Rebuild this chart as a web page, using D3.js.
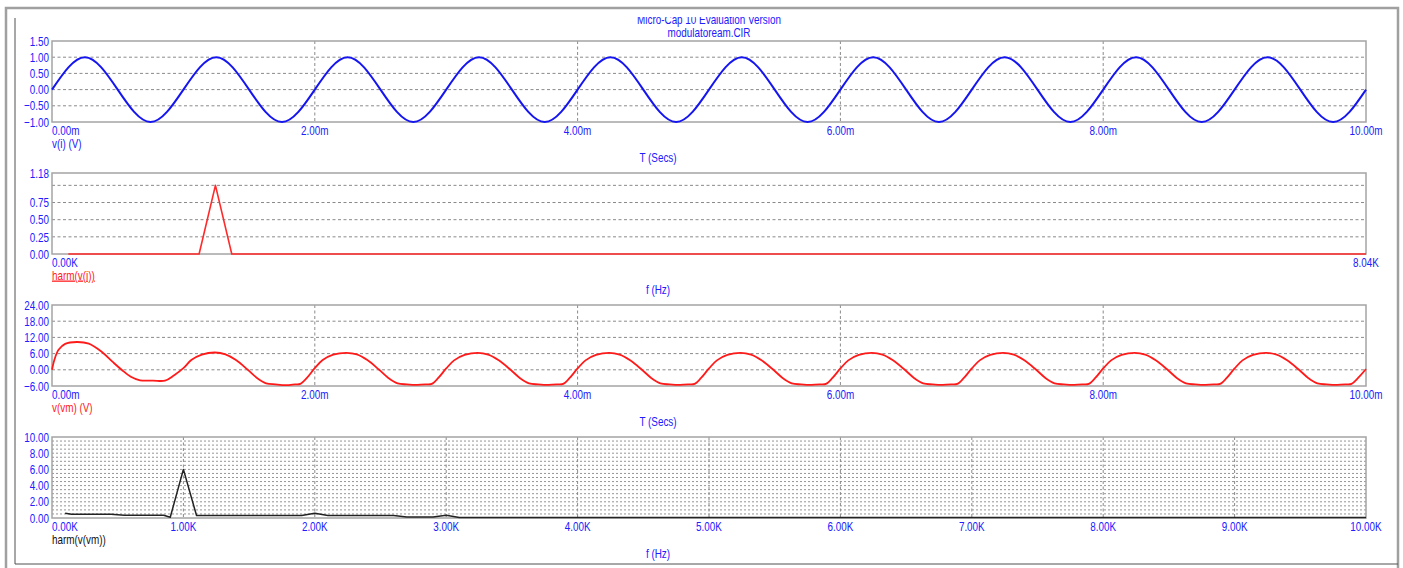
<!DOCTYPE html>
<html>
<head>
<meta charset="utf-8">
<script src="https://cdnjs.cloudflare.com/ajax/libs/d3/7.8.5/d3.min.js"></script>
<style>
  html, body { margin: 0; padding: 0; background: #fff; }
  svg { display: block; font-family: "Liberation Sans", Arial, sans-serif; }
</style>
</head>
<body>
<svg id="chart" width="1403" height="568"></svg>
<script>
// ---------------------------------------------
// Data (time in ms, frequency in kHz)
// ---------------------------------------------

// v(i) : input sine
const viTime = [0, 0.25, 0.5, 0.75, 1, 1.25, 1.5, 1.75, 2, 2.25, 2.5, 2.75,
  3, 3.25, 3.5, 3.75, 4, 4.25, 4.5, 4.75, 5, 5.25, 5.5, 5.75, 6, 6.25, 6.5, 6.75,
  7, 7.25, 7.5, 7.75, 8, 8.25, 8.5, 8.75, 9, 9.25, 9.5, 9.75, 10];
const viValue = [0, 1, 0, -1, 0, 1, 0, -1, 0, 1, 0, -1,
  0, 1, 0, -1, 0, 1, 0, -1, 0, 1, 0, -1, 0, 1, 0, -1,
  0, 1, 0, -1, 0, 1, 0, -1, 0, 1, 0, -1, 0];

// harm(v(i))
const hviFreq = [0.1, 0.9, 1.0, 1.1, 8.04];
const hviValue = [0, 0, 1.0, 0, 0];

// v(vm) : output
const vmTime = [
  0, 0.02, 0.05, 0.10, 0.19, 0.28, 0.38, 0.46, 0.53, 0.60, 0.67, 0.77, 0.86, 0.93,
  1.00, 1.06, 1.14, 1.24, 1.32, 1.40, 1.49, 1.56, 1.63, 1.70, 1.78, 1.85, 1.89, 1.94,
  2.00, 2.06, 2.14, 2.24, 2.32, 2.40, 2.49, 2.56, 2.63, 2.70, 2.78, 2.85, 2.89, 2.94,
  3.00, 3.06, 3.14, 3.24, 3.32, 3.40, 3.49, 3.56, 3.63, 3.70, 3.78, 3.85, 3.89, 3.94,
  4.00, 4.06, 4.14, 4.24, 4.32, 4.40, 4.49, 4.56, 4.63, 4.70, 4.78, 4.85, 4.89, 4.94,
  5.00, 5.06, 5.14, 5.24, 5.32, 5.40, 5.49, 5.56, 5.63, 5.70, 5.78, 5.85, 5.89, 5.94,
  6.00, 6.06, 6.14, 6.24, 6.32, 6.40, 6.49, 6.56, 6.63, 6.70, 6.78, 6.85, 6.89, 6.94,
  7.00, 7.06, 7.14, 7.24, 7.32, 7.40, 7.49, 7.56, 7.63, 7.70, 7.78, 7.85, 7.89, 7.94,
  8.00, 8.06, 8.14, 8.24, 8.32, 8.40, 8.49, 8.56, 8.63, 8.70, 8.78, 8.85, 8.89, 8.94,
  9.00, 9.06, 9.14, 9.24, 9.32, 9.40, 9.49, 9.56, 9.63, 9.70, 9.78, 9.85, 9.89, 9.94,
  10.00
];
const vmValue = [
  0, 4.0, 7.4, 9.6, 10.3, 9.7, 6.6, 3.0, 0.0, -2.6, -3.9, -4.0, -4.0, -2.0,
  0.6, 3.6, 5.6, 6.4, 5.7, 3.6, 0.0, -3.0, -5.0, -5.4, -5.7, -5.4, -5.2, -3.0,
  0.6, 3.6, 5.6, 6.3, 5.7, 3.6, 0.0, -3.0, -5.0, -5.4, -5.6, -5.4, -5.2, -3.0,
  0.5, 3.5, 5.5, 6.3, 5.6, 3.5, 0.0, -3.0, -5.0, -5.4, -5.6, -5.4, -5.2, -3.0,
  0.5, 3.5, 5.5, 6.3, 5.6, 3.5, 0.0, -3.0, -5.0, -5.4, -5.6, -5.4, -5.2, -3.0,
  0.5, 3.5, 5.5, 6.3, 5.6, 3.5, 0.0, -3.0, -5.0, -5.4, -5.6, -5.4, -5.2, -3.0,
  0.5, 3.5, 5.5, 6.3, 5.6, 3.5, 0.0, -3.0, -5.0, -5.4, -5.6, -5.4, -5.2, -3.0,
  0.5, 3.5, 5.5, 6.3, 5.6, 3.5, 0.0, -3.0, -5.0, -5.4, -5.6, -5.4, -5.2, -3.0,
  0.5, 3.5, 5.5, 6.3, 5.6, 3.5, 0.0, -3.0, -5.0, -5.4, -5.6, -5.4, -5.2, -3.0,
  0.5, 3.5, 5.5, 6.3, 5.6, 3.5, 0.0, -3.0, -5.0, -5.4, -5.6, -5.4, -5.2, -3.0,
  0.3
];

// harm(v(vm))
const hvmFreq = [0.1, 0.15, 0.45, 0.55, 0.85, 0.9, 1.0, 1.1, 1.9, 2.0, 2.1, 2.6, 2.7, 2.9, 3.0, 3.1, 10.0];
const hvmValue = [0.6, 0.45, 0.45, 0.33, 0.33, 0.1, 6.0, 0.3, 0.3, 0.6, 0.3, 0.3, 0.12, 0.12, 0.35, 0.05, 0.05];

// Tick values
const timeTicks = [0, 2, 4, 6, 8, 10];
const viYTicks = [-1, -0.5, 0, 0.5, 1, 1.5];
const hviXTicks = [0, 8.04];
const hviYTicks = [0, 0.25, 0.5, 0.75, 1.18];
const vmYTicks = [-6, 0, 6, 12, 18, 24];
const hvmXTicks = [0, 1, 2, 3, 4, 5, 6, 7, 8, 9, 10];
const hvmYTicks = [0, 2, 4, 6, 8, 10];

// ---------------------------------------------
// Layout
// ---------------------------------------------
const svg = d3.select('#chart');
const plotLeft = 52;
const plotRight = 1366;
const plotHeight = 81;
const titleX = 658;
const fontSize = 13;
const textBlue = '#2020ff';
const fmt = d3.format('.2f');

// Window frame
svg.append('path')
    .attr('d', 'M6,568 V8 H1398 V568')
    .attr('fill', 'none').attr('stroke', '#a0a0a0').attr('stroke-width', 2.5);
svg.append('path')
    .attr('d', 'M15,18 V564 H1398')
    .attr('fill', 'none').attr('stroke', '#505050').attr('stroke-width', 1);

// Title (top line partly hidden by window edge)
svg.append('clipPath').attr('id', 'title-clip')
  .append('rect').attr('x', 0).attr('y', 17).attr('width', 1403).attr('height', 30);
svg.append('text')
    .attr('x', 709).attr('y', 23.5)
    .attr('clip-path', 'url(#title-clip)')
    .attr('text-anchor', 'middle').attr('font-size', fontSize).attr('fill', textBlue)
    .text('Micro-Cap 10 Evaluation Version');
svg.append('text')
    .attr('x', 709).attr('y', 37)
    .attr('text-anchor', 'middle').attr('font-size', fontSize).attr('fill', textBlue)
    .text('modulatoream.CIR');

/**
 * Draws one plot panel
 */
let drawPanel = function(cfg) {
  let top = cfg.top;
  let bottom = top + plotHeight;
  let g = svg.append('g');

  let x = d3.scaleLinear().domain(cfg.xDomain).range([plotLeft, plotRight]);
  let y = d3.scaleLinear().domain(cfg.yDomain).range([bottom, top]);

  // Horizontal grid
  g.selectAll('line.hgrid').data(cfg.hGrid).join('line')
      .attr('class', 'hgrid')
      .attr('x1', plotLeft).attr('x2', plotRight)
      .attr('y1', (d) => y(d)).attr('y2', (d) => y(d))
      .attr('stroke', cfg.hGridColor || '#8a8a8a')
      .attr('stroke-width', 1)
      .attr('stroke-dasharray', cfg.hGridDash || '3,2.5');

  // Vertical grid
  g.selectAll('line.vgrid').data(cfg.vGrid).join('line')
      .attr('class', 'vgrid')
      .attr('x1', (d) => x(d)).attr('x2', (d) => x(d))
      .attr('y1', top).attr('y2', bottom)
      .attr('stroke', '#8a8a8a')
      .attr('stroke-width', 1)
      .attr('stroke-dasharray', '3,2.5');

  // Frame
  g.append('rect')
      .attr('x', plotLeft).attr('y', top)
      .attr('width', plotRight - plotLeft).attr('height', plotHeight)
      .attr('fill', 'none').attr('stroke', '#a4a4a4').attr('stroke-width', 1.5);

  // Y tick labels
  g.selectAll('text.ytick').data(cfg.yTicks).join('text')
      .attr('class', 'ytick')
      .attr('x', plotLeft - 3).attr('y', (d) => y(d)).attr('dy', '0.36em')
      .attr('text-anchor', 'end').attr('font-size', fontSize).attr('fill', textBlue)
      .text((d) => fmt(d));

  // X tick labels
  g.selectAll('text.xtick').data(cfg.xTicks).join('text')
      .attr('class', 'xtick')
      .attr('x', (d) => x(d)).attr('y', bottom + 12.5)
      .attr('text-anchor', (d, i) => i == 0 ? 'start' : 'middle')
      .attr('font-size', fontSize).attr('fill', textBlue)
      .text((d) => fmt(d) + cfg.unit);

  // Series label
  g.append('text')
      .attr('x', plotLeft).attr('y', bottom + 25.5)
      .attr('font-size', fontSize).attr('fill', cfg.labelColor)
      .attr('text-decoration', cfg.underline ? 'underline' : null)
      .text(cfg.label);

  // Axis title
  g.append('text')
      .attr('x', titleX).attr('y', bottom + 40)
      .attr('text-anchor', 'middle').attr('font-size', fontSize).attr('fill', textBlue)
      .text(cfg.axisTitle);

  // Series
  let line = d3.line()
      .x((d) => x(d[0]))
      .y((d) => y(d[1]))
      .curve(cfg.curve || d3.curveLinear);
  g.append('path')
      .datum(d3.zip(cfg.xs, cfg.ys))
      .attr('d', line)
      .attr('fill', 'none')
      .attr('stroke', cfg.color)
      .attr('stroke-width', cfg.width)
      .attr('stroke-linejoin', 'round');
};

drawPanel({
  top: 41, xDomain: [0, 10], yDomain: [-1, 1.5],
  hGrid: [-0.5, 0, 0.5, 1], vGrid: [2, 4, 6, 8],
  yTicks: viYTicks, xTicks: timeTicks, unit: 'm',
  label: 'v(i) (V)', labelColor: textBlue, axisTitle: 'T (Secs)',
  xs: viTime, ys: viValue, color: '#1515f0', width: 2, curve: d3.curveNatural
});

drawPanel({
  top: 173, xDomain: [0, 8.04], yDomain: [0, 1.18],
  hGrid: [0.25, 0.5, 0.75, 1.0], vGrid: [],
  yTicks: hviYTicks, xTicks: hviXTicks, unit: 'K',
  label: 'harm(v(i))', labelColor: '#ff2020', underline: true, axisTitle: 'f (Hz)',
  xs: hviFreq, ys: hviValue, color: '#ff2a2a', width: 1.6
});

drawPanel({
  top: 305, xDomain: [0, 10], yDomain: [-6, 24],
  hGrid: [0, 6, 12, 18], vGrid: [2, 4, 6, 8],
  yTicks: vmYTicks, xTicks: timeTicks, unit: 'm',
  label: 'v(vm) (V)', labelColor: '#ff2020', axisTitle: 'T (Secs)',
  xs: vmTime, ys: vmValue, color: '#ff1a1a', width: 1.8, curve: d3.curveCatmullRom
});

drawPanel({
  top: 437, xDomain: [0, 10], yDomain: [0, 10],
  hGrid: d3.range(0.5, 10, 0.5), hGridColor: '#959595', hGridDash: '2,2',
  vGrid: [1, 2, 3, 4, 5, 6, 7, 8, 9],
  yTicks: hvmYTicks, xTicks: hvmXTicks, unit: 'K',
  label: 'harm(v(vm))', labelColor: '#111', axisTitle: 'f (Hz)',
  xs: hvmFreq, ys: hvmValue, color: '#222', width: 1.5
});

// Narrow all texts to mimic the condensed screen font
svg.selectAll('text').each(function() {
  let w = this.getComputedTextLength();
  this.setAttribute('textLength', (w * 0.76).toFixed(1));
  this.setAttribute('lengthAdjust', 'spacingAndGlyphs');
});
</script>
</body>
</html>
